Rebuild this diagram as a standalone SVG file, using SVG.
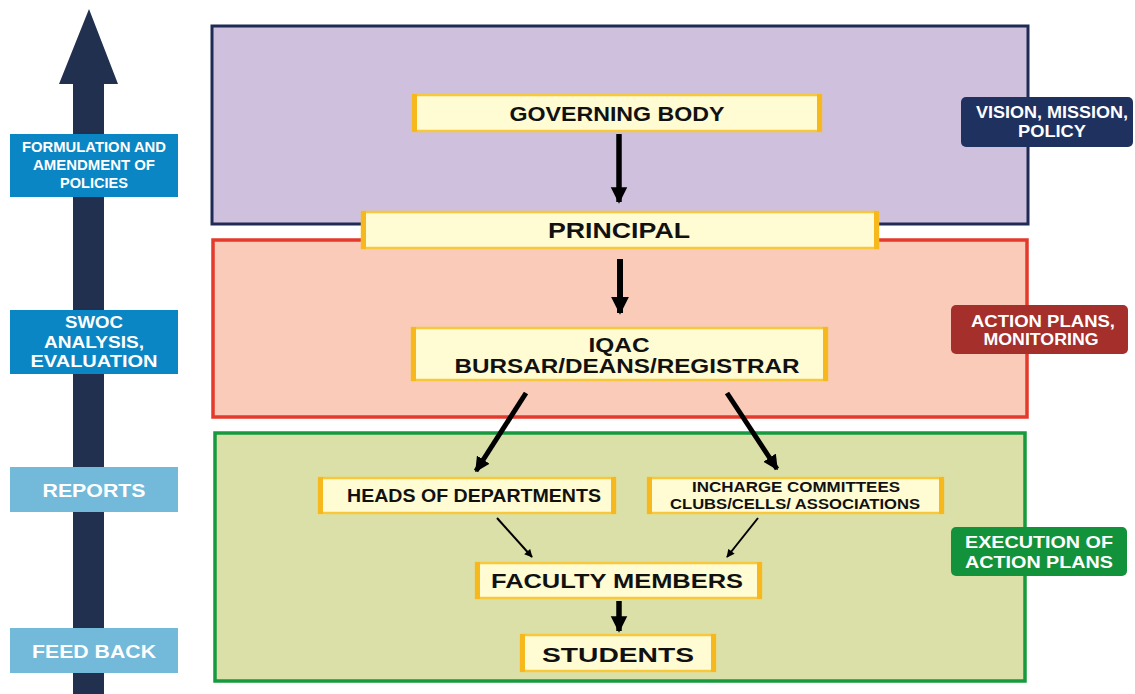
<svg xmlns="http://www.w3.org/2000/svg" width="1135" height="694" viewBox="0 0 1135 694">
<defs>
<style>
.t{font-family:"Liberation Sans",Arial,sans-serif;font-weight:bold;text-anchor:middle}
.nt{fill:#111}
.lt{fill:#fff}
.nb{fill:#fffbd2;stroke:#f8c83c;stroke-width:2.5}
.side{fill:#f6b81c}
.ln{stroke:#000;fill:none}
</style>
<marker id="ah" viewBox="0 0 10 10" refX="9" refY="5" markerWidth="3" markerHeight="3.2" orient="auto" markerUnits="strokeWidth">
<path d="M0,0 L10,5 L0,10 z" fill="#000"/>
</marker>
<marker id="ahs" viewBox="0 0 10 10" refX="9" refY="5" markerWidth="4.5" markerHeight="4" orient="auto" markerUnits="strokeWidth">
<path d="M0,0 L10,5 L0,10 z" fill="#000"/>
</marker>
</defs>
<rect width="1135" height="694" fill="#fff"/>

<!-- left upward arrow -->
<g id="flow-arrow">
<path d="M73,694 L73,84 L59,84 L89,9 L118,84 L104,84 L104,694 z" fill="#223050"/>
</g>
<g id="left-labels">
<g id="lbl-formulation">
<rect x="10" y="134" width="168" height="63" fill="#0b86c4"/>
<text class="t lt" font-size="14" x="94" y="152" textLength="144" lengthAdjust="spacingAndGlyphs">FORMULATION AND</text>
<text class="t lt" font-size="14" x="94" y="170" textLength="122" lengthAdjust="spacingAndGlyphs">AMENDMENT OF</text>
<text class="t lt" font-size="14" x="94" y="188" textLength="68" lengthAdjust="spacingAndGlyphs">POLICIES</text>
</g>
<g id="lbl-swoc">
<rect x="10" y="310" width="168" height="64" fill="#0b86c4"/>
<text class="t lt" font-size="16" x="94" y="328" textLength="58" lengthAdjust="spacingAndGlyphs">SWOC</text>
<text class="t lt" font-size="16" x="94" y="348" textLength="100" lengthAdjust="spacingAndGlyphs">ANALYSIS,</text>
<text class="t lt" font-size="16" x="94" y="367" textLength="127" lengthAdjust="spacingAndGlyphs">EVALUATION</text>
</g>
<g id="lbl-reports">
<rect x="10" y="467" width="168" height="45" fill="#72b9da"/>
<text class="t lt" font-size="19" x="94" y="497" textLength="103" lengthAdjust="spacingAndGlyphs">REPORTS</text>
</g>
<g id="lbl-feedback">
<rect x="10" y="628" width="168" height="45" fill="#72b9da"/>
<text class="t lt" font-size="19" x="94" y="658" textLength="124" lengthAdjust="spacingAndGlyphs">FEED BACK</text>
</g>
</g>

<!-- tier panels -->
<g id="tier-governance">
<rect x="212" y="26" width="816" height="198" fill="#cfc1dd" stroke="#1f2b55" stroke-width="3"/>
</g>
<g id="tier-planning">
<rect x="213" y="240" width="814" height="177" fill="#f9cbb8" stroke="#e33a2c" stroke-width="3.5"/>
</g>
<g id="tier-execution">
<rect x="215" y="433" width="810" height="248" fill="#dbe0a8" stroke="#179a3f" stroke-width="3.5"/>
</g>

<!-- right labels -->
<g id="lbl-vision">
<rect x="961" y="97" width="172" height="50" rx="5" fill="#1f325f"/>
<text class="t lt" font-size="16.5" x="1052" y="118" textLength="152" lengthAdjust="spacingAndGlyphs">VISION, MISSION,</text>
<text class="t lt" font-size="16.5" x="1052" y="137" textLength="68" lengthAdjust="spacingAndGlyphs">POLICY</text>
</g>
<g id="lbl-action">
<rect x="951" y="305" width="177" height="49" rx="5" fill="#a52f2b"/>
<text class="t lt" font-size="16.5" x="1043" y="327" textLength="144" lengthAdjust="spacingAndGlyphs">ACTION PLANS,</text>
<text class="t lt" font-size="16.5" x="1041" y="345" textLength="115" lengthAdjust="spacingAndGlyphs">MONITORING</text>
</g>
<g id="lbl-execution">
<rect x="951" y="527" width="176" height="49" rx="5" fill="#13923c"/>
<text class="t lt" font-size="17" x="1039" y="548" textLength="148" lengthAdjust="spacingAndGlyphs">EXECUTION OF</text>
<text class="t lt" font-size="17" x="1039" y="568" textLength="148" lengthAdjust="spacingAndGlyphs">ACTION PLANS</text>
</g>

<!-- connectors -->
<g id="connectors">
<line class="ln" x1="619" y1="134" x2="619" y2="202" stroke-width="5.5" marker-end="url(#ah)"/>
<line class="ln" x1="620" y1="259" x2="620" y2="313" stroke-width="6" marker-end="url(#ah)"/>
<line class="ln" x1="526" y1="393" x2="476" y2="471" stroke-width="5" marker-end="url(#ah)"/>
<line class="ln" x1="727" y1="393" x2="777" y2="469" stroke-width="5" marker-end="url(#ah)"/>
<line class="ln" x1="497" y1="518" x2="532" y2="557" stroke-width="2" marker-end="url(#ahs)"/>
<line class="ln" x1="758" y1="518" x2="727" y2="557" stroke-width="2" marker-end="url(#ahs)"/>
<line class="ln" x1="619" y1="601" x2="619" y2="631" stroke-width="5.5" marker-end="url(#ah)"/>
</g>

<!-- nodes -->
<g id="node-governing">
<rect class="nb" x="413" y="95" width="408" height="36"/>
<rect class="side" x="412" y="94" width="5" height="38"/>
<rect class="side" x="817" y="94" width="5" height="38"/>
<text class="t nt" font-size="21" x="617" y="120.5" textLength="215" lengthAdjust="spacingAndGlyphs">GOVERNING BODY</text>
</g>
<g id="node-principal">
<rect class="nb" x="362" y="212" width="516" height="36"/>
<rect class="side" x="361" y="211" width="5" height="38"/>
<rect class="side" x="874" y="211" width="5" height="38"/>
<text class="t nt" font-size="22" x="619" y="238" textLength="142" lengthAdjust="spacingAndGlyphs">PRINCIPAL</text>
</g>
<g id="node-iqac">
<rect class="nb" x="412" y="328" width="415" height="52"/>
<rect class="side" x="411" y="327" width="5" height="54"/>
<rect class="side" x="823" y="327" width="5" height="54"/>
<text class="t nt" font-size="20" x="619" y="352" textLength="61" lengthAdjust="spacingAndGlyphs">IQAC</text>
<text class="t nt" font-size="20" x="627" y="373" textLength="345" lengthAdjust="spacingAndGlyphs">BURSAR/DEANS/REGISTRAR</text>
</g>
<g id="node-hod">
<rect class="nb" x="319" y="478" width="296" height="35"/>
<rect class="side" x="318" y="477" width="5" height="37"/>
<rect class="side" x="611" y="477" width="5" height="37"/>
<text class="t nt" font-size="19" x="474" y="502" textLength="254" lengthAdjust="spacingAndGlyphs">HEADS OF DEPARTMENTS</text>
</g>
<g id="node-incharge">
<rect class="nb" x="648" y="478" width="295" height="35"/>
<rect class="side" x="647" y="477" width="5" height="37"/>
<rect class="side" x="939" y="477" width="5" height="37"/>
<text class="t nt" font-size="14" x="796" y="492" textLength="208" lengthAdjust="spacingAndGlyphs">INCHARGE  COMMITTEES</text>
<text class="t nt" font-size="14" x="795" y="509" textLength="250" lengthAdjust="spacingAndGlyphs">CLUBS/CELLS/ ASSOCIATIONS</text>
</g>
<g id="node-faculty">
<rect class="nb" x="476" y="563" width="285" height="35"/>
<rect class="side" x="475" y="562" width="5" height="37"/>
<rect class="side" x="757" y="562" width="5" height="37"/>
<text class="t nt" font-size="21" x="617" y="588" textLength="252" lengthAdjust="spacingAndGlyphs">FACULTY MEMBERS</text>
</g>
<g id="node-students">
<rect class="nb" x="521" y="635" width="194" height="36"/>
<rect class="side" x="520" y="634" width="5" height="38"/>
<rect class="side" x="711" y="634" width="5" height="38"/>
<text class="t nt" font-size="21" x="618" y="662" textLength="152" lengthAdjust="spacingAndGlyphs">STUDENTS</text>
</g>
</svg>
